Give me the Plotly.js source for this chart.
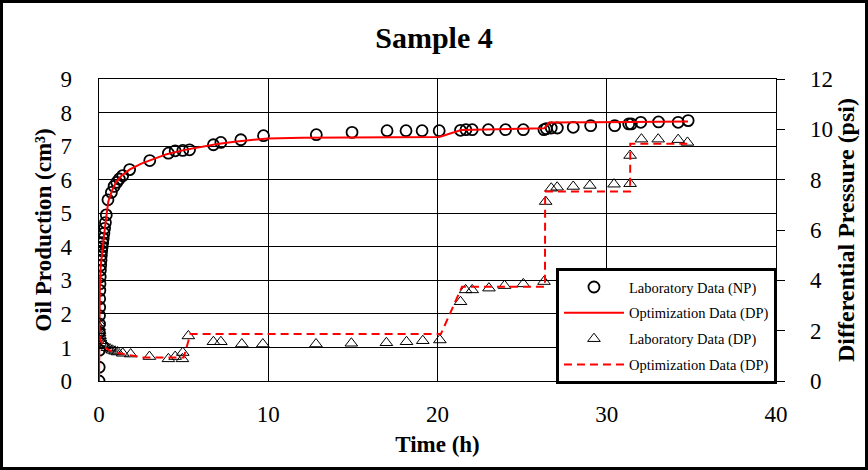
<!DOCTYPE html>
<html>
<head>
<meta charset="utf-8">
<script src="https://cdn.plot.ly/plotly-3.0.1.min.js"></script>
<style>
html,body{margin:0;padding:0;background:#fff;}
#chart{width:868px;height:470px;}
</style>
</head>
<body>
<div id="chart"></div>
<script>
// Laboratory oil production (NP) — time (h), cm3
const tNP = [0,0.01,0.02,0.02,0.03,0.03,0.04,0.04,0.05,0.06,0.07,0.08,0.1,0.12,0.14,0.16,0.19,0.22,0.25,0.29,0.33,0.38,0.43,0.53,0.73,0.89,1.05,1.2,1.4,1.81,3.0,4.1,4.5,4.95,5.35,6.76,7.2,8.38,9.72,12.84,14.95,17.02,18.14,19.09,20.1,21.36,21.68,22.05,23.0,24.02,25.07,26.29,26.43,26.72,27.08,28.02,29.05,30.47,31.3,31.45,32.01,33.06,34.22,34.81];
const labNP = [0,0.41,0.92,1.45,1.7,1.95,2.2,2.45,2.7,2.9,3.1,3.3,3.45,3.6,3.75,3.88,4.0,4.12,4.25,4.4,4.55,4.72,4.95,5.40,5.62,5.8,5.92,6.02,6.12,6.3,6.57,6.79,6.86,6.87,6.89,7.04,7.11,7.19,7.31,7.34,7.41,7.46,7.46,7.46,7.46,7.47,7.49,7.49,7.49,7.49,7.49,7.49,7.52,7.54,7.54,7.56,7.61,7.61,7.66,7.66,7.71,7.72,7.71,7.76];

// Optimization NP curve
const tNPopt = [0,0.02,0.05,0.1,0.2,0.3,0.43,0.55,0.75,1.0,1.3,1.8,2.5,3.0,4.0,5.0,6.0,7.0,8.0,9.0,10,12,15,20.1,21.4,23,26.3,26.6,28,31.4,34.8];
const optNP = [0,1.5,2.8,3.4,3.95,4.35,4.9,5.35,5.65,5.92,6.1,6.3,6.48,6.58,6.76,6.88,6.98,7.06,7.13,7.19,7.23,7.25,7.26,7.27,7.48,7.5,7.53,7.7,7.71,7.72,7.73];

// Laboratory differential pressure (psi)
const tDP = [0.0,0.01,0.02,0.04,0.06,0.09,0.12,0.18,0.25,0.35,0.5,0.65,0.8,0.95,1.1,1.4,1.87,2.98,4.1,4.5,4.93,4.95,5.28,6.76,7.2,8.44,9.68,12.82,14.91,16.98,18.17,19.13,20.14,21.36,21.66,22.05,23.04,23.96,25.07,26.29,26.39,26.72,27.07,28.02,29.0,30.43,31.38,31.38,32.05,33.04,34.22,34.77];
const labDP = [2.3,2.15,2.0,1.9,1.8,1.7,1.6,1.5,1.45,1.4,1.32,1.27,1.22,1.18,1.15,1.1,1.07,0.97,0.88,0.97,0.88,1.13,1.79,1.56,1.56,1.47,1.47,1.47,1.50,1.52,1.56,1.60,1.63,3.15,3.62,3.62,3.69,3.79,3.86,3.95,7.13,7.66,7.70,7.73,7.77,7.82,7.84,8.96,9.61,9.61,9.59,9.48];

// Optimization DP curve
const tDPopt = [0,0.1,0.3,0.6,1.0,1.5,2.0,2.6,5.0,5.4,20.2,21.45,26.35,26.36,31.38,31.39,34.8];
const optDP = [2.3,1.6,1.35,1.22,1.13,1.07,1.03,0.93,0.93,1.87,1.87,3.75,3.75,7.53,7.53,9.43,9.43];

const xTicks = [0,10,20,30,40];
const yTicksL = [0,1,2,3,4,5,6,7,8,9];
const yTicksR = [0,2,4,6,8,10,12];

const FONT = 'Liberation Serif, Times New Roman, serif';

const trNPlab = {x:tNP, y:labNP, type:'scatter', mode:'markers', name:'Laboratory Data (NP)', legendgroup:'a',
   marker:{symbol:'circle-open', size:11, color:'#000', line:{width:1.8, color:'#000'}}, yaxis:'y'};
const trNPopt = {x:tNPopt, y:optNP, type:'scatter', mode:'lines', name:'Optimization Data (DP)', legendgroup:'b',
   line:{color:'#ff0000', width:2}, yaxis:'y'};
const trDPlab = {x:tDP, y:labDP, type:'scatter', mode:'markers', name:'Laboratory Data (DP)', legendgroup:'c',
   marker:{symbol:'triangle-up-open', size:11, color:'#000', line:{width:1, color:'#000'}}, yaxis:'y2'};
const trDPopt = {x:tDPopt, y:optDP, type:'scatter', mode:'lines', name:'Optimization Data (DP)', legendgroup:'d',
   line:{color:'#ff0000', width:2, dash:'8px,5px'}, yaxis:'y2'};
const data = [trNPlab, trNPopt, trDPlab, trDPopt];

const layout = {
  width:868, height:470,
  margin:{l:99, r:92, t:79, b:89},
  paper_bgcolor:'#fff', plot_bgcolor:'#fff',
  font:{family:FONT, color:'#000', size:23},
  showlegend:true,
  title:{text:'<b>Sample 4</b>', font:{family:FONT, size:30, color:'#000'}, x:0.5, xanchor:'center', y:0.92, yanchor:'middle'},
  xaxis:{range:[0,40], tickvals:xTicks, ticktext:xTicks.map(String), showgrid:true, gridcolor:'#000', gridwidth:1,
         showline:true, linecolor:'#000', linewidth:1.3, mirror:true, zeroline:false, ticks:'', ticklabelstandoff:12,
         tickfont:{family:FONT, size:23},
         title:{text:'<b>Time (h)</b>', font:{family:FONT, size:23}, standoff:10}},
  yaxis:{range:[0,9], tickvals:yTicksL, ticktext:yTicksL.map(String), showgrid:true, gridcolor:'#000', gridwidth:1,
         showline:true, linecolor:'#000', linewidth:1.3, mirror:true, zeroline:false, ticks:'', ticklabelstandoff:21,
         tickfont:{family:FONT, size:23},
         title:{text:'<b>Oil Production (cm³)</b>', font:{family:FONT, size:23}, standoff:2}},
  yaxis2:{range:[0,12], tickvals:yTicksR, ticktext:yTicksR.map(String), overlaying:'y', side:'right', showgrid:false,
          showline:true, linecolor:'#000', linewidth:1.3, zeroline:false, ticks:'outside', ticklen:8, tickcolor:'#000', tickwidth:1,
          ticklabelstandoff:20, tickfont:{family:FONT, size:23},
          title:{text:'<b>Differential Pressure (psi)</b>', font:{family:FONT, size:24}, standoff:4}},
  legend:{x:0.675, y:0.374, xanchor:'left', yanchor:'top', bgcolor:'#fff', bordercolor:'#000', borderwidth:3,
          font:{family:FONT, size:14.5, color:'#000'}, tracegroupgap:4, itemwidth:60, traceorder:'grouped'},
  shapes:[{type:'rect', xref:'paper', yref:'paper', x0:-0.144, x1:1.1337, y0:-0.2897, y1:1.2566,
           line:{color:'#000', width:3}, fillcolor:'rgba(0,0,0,0)', layer:'above'}]
};

Plotly.newPlot('chart', data, layout, {displayModeBar:false, staticPlot:true});
</script>
</body>
</html>
